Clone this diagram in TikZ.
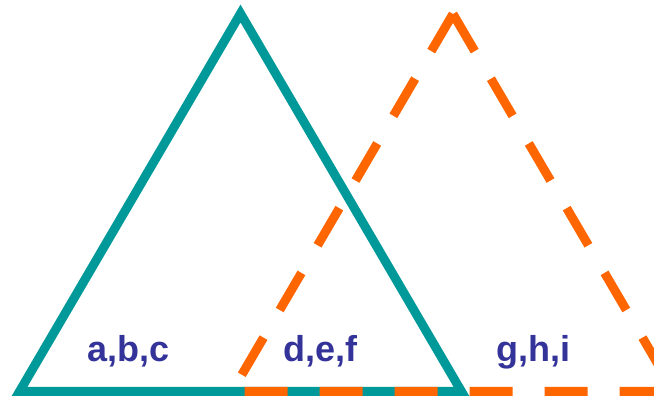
\documentclass[tikz,border=0pt]{standalone}
\usepackage{fontspec}
\setmainfont{Liberation Sans}
\definecolor{tealc}{HTML}{009999}
\definecolor{orangec}{HTML}{FF6600}
\definecolor{labelc}{HTML}{333399}
\begin{document}
\begin{tikzpicture}[x=1pt,y=1pt,
  tri/.style={line width=9pt, line join=miter, miter limit=10},
  lbl/.style={font=\fontsize{36}{36}\selectfont\bfseries, text=labelc, anchor=base, inner sep=0pt},
  odash/.style={tri, draw=orangec, dash pattern=on 43pt off 32pt}]
\useasboundingbox (0,0) rectangle (654,398);
\clip (0,0) rectangle (654,398);
\coordinate (tA) at (240.5,384.5);
\coordinate (tL) at (19.5,6.5);
\coordinate (tR) at (461.5,6.5);
\draw[tri, draw=tealc] (tA) -- (tL) -- (tR) -- cycle;
\coordinate (oA) at (453,384);
\coordinate (oL) at (232,6.5);
\coordinate (oR) at (674,6.5);
\draw[odash] (oA) -- (oL) -- (oR);
\draw[odash] (oA) -- (oR);
\node[lbl] (abc) at (128.5,36) {a,b,c};
\node[lbl] (def) at (320.5,36) {d,e,f};
\node[lbl] (ghi) at (533.5,36) {g,h,i};
\end{tikzpicture}
\end{document}
